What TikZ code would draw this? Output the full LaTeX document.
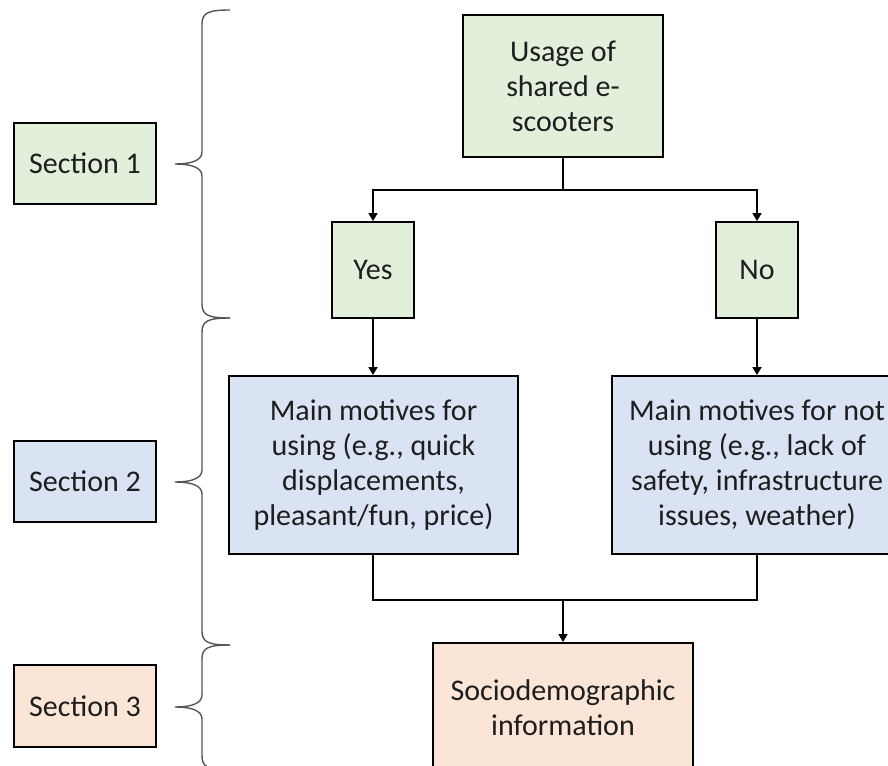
\documentclass[tikz,border=0pt]{standalone}
\usepackage{fontspec}
\setmainfont{Carlito}
\usetikzlibrary{arrows.meta}
\definecolor{boxgreen}{HTML}{E2EFDA}
\definecolor{boxblue}{HTML}{DAE3F3}
\definecolor{boxorange}{HTML}{FBE5D6}
\definecolor{txt}{HTML}{1E1E1E}
\definecolor{bracegray}{HTML}{555555}
\tikzset{
  box/.style={draw=black, line width=1.9pt, inner sep=0pt, align=center,
    text=txt, font=\fontsize{30}{35}\selectfont},
  gbox/.style={box, fill=boxgreen},
  bbox/.style={box, fill=boxblue},
  obox/.style={box, fill=boxorange},
  conn/.style={draw=black, line width=1.7pt},
  arr/.style={conn, -{Triangle[length=8pt,width=9pt]}},
  bracestyle/.style={draw=bracegray, line width=1.4pt},
}
\newcommand\secbrace[4]{%
  \draw[bracestyle] ({#1+28},#2) .. controls ({#1+6},#2) and (#1,{#2+3}) .. (#1,{#2+14})
    -- (#1,{#3-12}) .. controls (#1,{#3-3}) and ({#1-12},#3) .. ({#1-27},#3)
    .. controls ({#1-12},#3) and (#1,{#3+3}) .. (#1,{#3+12})
    -- (#1,{#4-14}) .. controls (#1,{#4-3}) and ({#1+6},#4) .. ({#1+28},#4);}
\begin{document}
\begin{tikzpicture}[x=1pt, y=-1pt]
\useasboundingbox (0,0) rectangle (888,765);
\clip (0,0) rectangle (888,765);
\fill[white] (0,0) rectangle (888,765);

% section labels
\node[gbox, minimum width=142pt, minimum height=81pt] (sec1) at (85,163.5) {Section 1};
\node[bbox, minimum width=142pt, minimum height=81pt] (sec2) at (85,481.5) {Section 2};
\node[obox, minimum width=142pt, minimum height=82pt] (sec3) at (85,706) {Section 3};

% braces
\secbrace{202}{10}{164}{318}
\secbrace{202}{318}{482}{645}
\secbrace{202}{645}{707}{770}

% flow boxes
\node[gbox, minimum width=200pt, minimum height=142pt] (usage) at (563,86) {Usage of\\shared e-\\scooters};
\node[gbox, minimum width=82pt, minimum height=96pt] (yes) at (373,270) {Yes};
\node[gbox, minimum width=82pt, minimum height=96pt] (no) at (757,270) {No};
\node[bbox, minimum width=289pt, minimum height=178pt] (motU) at (373.5,465)
  {Main motives for\\using (e.g., quick\\displacements,\\pleasant/fun, price)};
\node[bbox, minimum width=290pt, minimum height=178pt] (motN) at (757,465)
  {Main motives for not\\using (e.g., lack of\\safety, infrastructure\\issues, weather)};
\node[obox, minimum width=260pt, minimum height=130pt] (socio) at (563,708)
  {Sociodemographic\\information};

% connectors
\coordinate (split) at (563,190);
\coordinate (join) at (563,600);
\draw[conn] (usage.south) -- (split);
\draw[arr] (split) -| (yes.north);
\draw[arr] (split) -| (no.north);
\draw[arr] (yes.south) -- (yes.south |- motU.north);
\draw[arr] (no.south) -- (no.south |- motN.north);
\draw[conn] (yes.south |- motU.south) |- (join);
\draw[conn] (no.south |- motN.south) |- (join);
\draw[arr] (join) -- (socio.north);
\end{tikzpicture}
\end{document}
